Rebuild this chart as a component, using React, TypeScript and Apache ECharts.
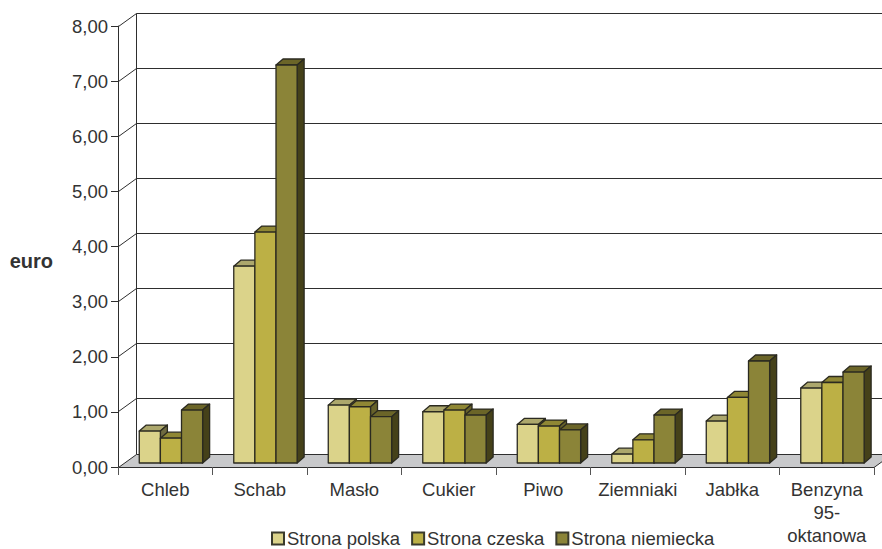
import React, { useEffect, useRef } from "react";
import * as echarts from "echarts";

const categories = ["Chleb", "Schab", "Masło", "Cukier", "Piwo", "Ziemniaki", "Jabłka", "Benzyna\n95-\noktanowa"];
const polska = [0.58, 3.57, 1.05, 0.93, 0.7, 0.16, 0.76, 1.36];
const czeska = [0.45, 4.19, 1.02, 0.96, 0.67, 0.42, 1.19, 1.46];
const niemiecka = [0.96, 7.22, 0.84, 0.87, 0.6, 0.87, 1.85, 1.65];
const axisTicks = [0, 1, 2, 3, 4, 5, 6, 7, 8];

const FONT = "'Liberation Sans', Arial, sans-serif";
const INK = "#2e2e2e";
const WALL_DX = 18;
const WALL_DY = 13;
const BAR_DX = 7;
const BAR_DY = 6;

const snap = (n: number) => Math.round(n - 0.5) + 0.5;

// Back wall, side wall and floor of the pseudo-3D plot box.
const renderFrame = (params: any, api: any) => {
  const cs = params.coordSys;
  const v = api.value(1);
  const y = snap(api.coord([0, v])[1]);
  const left = snap(cs.x);
  const right = cs.x + cs.width;
  const lineStyle = { stroke: INK, lineWidth: 1, fill: "none" };
  const children: any[] = [];
  if (v === 0) {
    children.push({
      type: "polygon",
      shape: {
        points: [
          [left, y],
          [left + WALL_DX, y - WALL_DY],
          [right + WALL_DX, y - WALL_DY],
          [right, y],
        ],
      },
      style: { fill: "#c8c9cb", stroke: "none" },
    });
    children.push({
      type: "line",
      shape: { x1: right, y1: y, x2: right + WALL_DX, y2: y - WALL_DY },
      style: lineStyle,
    });
  }
  if (v === 8) {
    children.push({
      type: "line",
      shape: { x1: left + WALL_DX, y1: y - WALL_DY, x2: left + WALL_DX, y2: snap(api.coord([0, 0])[1]) - WALL_DY },
      style: lineStyle,
    });
  }
  children.push({
    type: "line",
    shape: { x1: left, y1: y, x2: left + WALL_DX, y2: y - WALL_DY },
    style: lineStyle,
  });
  children.push({
    type: "line",
    shape: { x1: left + WALL_DX, y1: y - WALL_DY, x2: right + WALL_DX, y2: y - WALL_DY },
    style: lineStyle,
  });
  return { type: "group", children };
};

// One extruded column: front face, top face and right side face.
const makeBarRenderer =
  (slot: number, front: string, top: string, side: string) => (_params: any, api: any) => {
    const band = api.size([1, 0])[0];
    const center = api.coord([api.value(0), 0]);
    const w = band * 0.2235;
    const x0 = center[0] - band * 0.275 + slot * w;
    const x1 = x0 + w;
    const base = center[1] - 4;
    const yTop = base - (center[1] - api.coord([api.value(0), api.value(1)])[1]);
    const edge = { stroke: "#2b2a20", lineWidth: 1.3, lineJoin: "round" };
    return {
      type: "group",
      children: [
        {
          type: "polygon",
          shape: { points: [[x0, yTop], [x0 + BAR_DX, yTop - BAR_DY], [x1 + BAR_DX, yTop - BAR_DY], [x1, yTop]] },
          style: { fill: top, ...edge },
        },
        {
          type: "polygon",
          shape: { points: [[x1, yTop], [x1 + BAR_DX, yTop - BAR_DY], [x1 + BAR_DX, base - BAR_DY], [x1, base]] },
          style: { fill: side, ...edge },
        },
        {
          type: "polygon",
          shape: { points: [[x0, yTop], [x1, yTop], [x1, base], [x0, base]] },
          style: { fill: front, ...edge },
        },
      ],
    };
  };

const barSeries = (
  name: string,
  values: number[],
  slot: number,
  front: string,
  top: string,
  side: string
) => ({
  type: "custom",
  name,
  renderItem: makeBarRenderer(slot, front, top, side),
  data: values.map((v, i) => [i, v]),
  encode: { x: 0, y: 1 },
  itemStyle: { color: front, borderColor: "#3a3a2c", borderWidth: 1 },
  z: 3,
});

export default function App() {
  const ref = useRef<HTMLDivElement>(null);

  useEffect(() => {
    document.body.style.margin = "0";
    const chart = echarts.init(ref.current!, null, { renderer: "svg" });
    chart.setOption({
      animation: false,
      backgroundColor: "#ffffff",
      grid: { left: 118, right: 8, top: 26, bottom: 82, outerBoundsMode: "none" },
      textStyle: { fontFamily: FONT },
      xAxis: {
        type: "category",
        data: categories,
        z: 5,
        axisLine: { lineStyle: { color: INK, width: 1 } },
        axisTick: { show: true, alignWithLabel: false, length: 8, lineStyle: { color: "#555", width: 1 } },
        axisLabel: {
          interval: 0,
          margin: 11,
          fontFamily: FONT,
          fontSize: 18.5,
          lineHeight: 23,
          color: "#333333",
        },
      },
      yAxis: {
        type: "value",
        min: 0,
        max: 8,
        interval: 1,
        z: 5,
        name: "euro",
        nameLocation: "middle",
        nameRotate: 0,
        nameGap: 65,
        nameTextStyle: {
          fontFamily: FONT,
          fontSize: 20,
          fontWeight: "bold",
          color: "#333333",
          verticalAlign: "top",
          padding: [4, 0, 0, 0],
        },
        splitLine: { show: false },
        axisLine: { show: true, lineStyle: { color: INK, width: 1 } },
        axisTick: { show: true, length: 7, lineStyle: { color: INK, width: 1 } },
        axisLabel: {
          margin: 10,
          fontFamily: FONT,
          fontSize: 18.5,
          color: "#333333",
          formatter: (v: number) => v.toFixed(2).replace(".", ","),
        },
      },
      legend: {
        left: 271,
        top: 529,
        padding: 0,
        itemWidth: 12,
        itemHeight: 12,
        itemGap: 11,
        icon: "rect",
        data: ["Strona polska", "Strona czeska", "Strona niemiecka"],
        textStyle: { fontFamily: FONT, fontSize: 18.5, color: "#333333", padding: [0, 0, 0, -2] },
      },
      series: [
        {
          type: "custom",
          name: "frame",
          silent: true,
          renderItem: renderFrame,
          data: axisTicks.map((t) => [0, t]),
          encode: { x: 0, y: 1 },
          z: 1,
        },
        barSeries("Strona polska", polska, 0, "#dbd38a", "#aca76c", "#6e6a40"),
        barSeries("Strona czeska", czeska, 1, "#bcb045", "#8f8734", "#67622a"),
        barSeries("Strona niemiecka", niemiecka, 2, "#8b8438", "#6b6528", "#454119"),
      ],
    });
    return () => chart.dispose();
  }, []);

  return <div ref={ref} style={{ width: 882, height: 549 }} />;
}
